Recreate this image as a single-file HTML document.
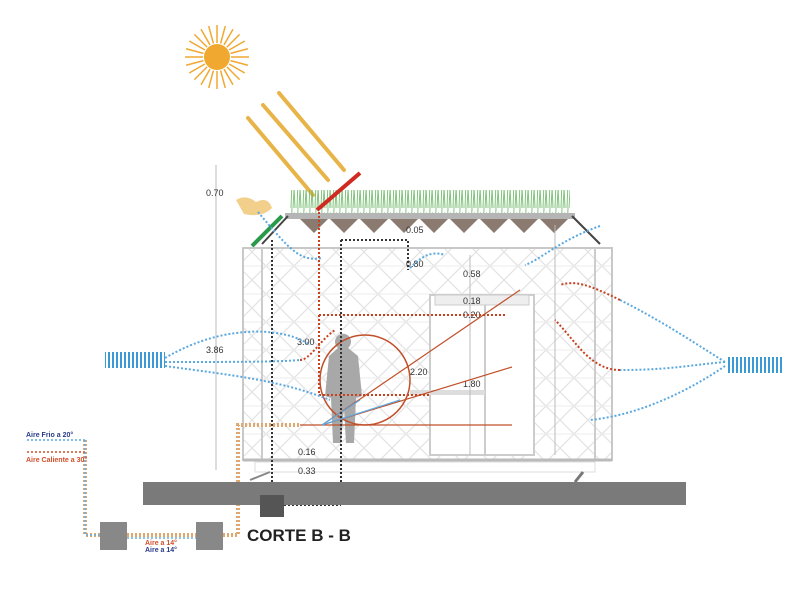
<!DOCTYPE html>
<html><head><meta charset="utf-8"><style>
html,body{margin:0;padding:0;background:#fff;width:800px;height:600px;overflow:hidden}
text{font-family:"Liberation Sans",sans-serif}
</style></head><body>
<svg width="800" height="600" viewBox="0 0 800 600" xmlns="http://www.w3.org/2000/svg">
<defs>
<pattern id="lat" width="28" height="28" patternUnits="userSpaceOnUse">
<path d="M0 0L28 28M28 0L0 28" stroke="#e3e3e3" stroke-width="1.2"/>
<path d="M0 14H28" stroke="#ececec" stroke-width="1"/>
</pattern>
<pattern id="grass" width="6" height="26" patternUnits="userSpaceOnUse">
<path d="M1 26L0 4M3 26L4 0M5 26L6 8" stroke="#6cb865" stroke-width="1"/>
</pattern>
<pattern id="vb" width="4" height="16" patternUnits="userSpaceOnUse">
<rect width="2" height="16" fill="#3a9ad6"/>
</pattern>
</defs>

<g transform="translate(217,57)" stroke="#f0a830" stroke-width="1.5">
<g id="r"><line x1="0" y1="-14" x2="0" y2="-32"/><line x1="0" y1="14" x2="0" y2="32"/><line x1="-14" y1="0" x2="-32" y2="0"/><line x1="14" y1="0" x2="32" y2="0"/></g>
<use href="#r" transform="rotate(15)"/><use href="#r" transform="rotate(30)"/><use href="#r" transform="rotate(45)"/><use href="#r" transform="rotate(60)"/><use href="#r" transform="rotate(75)"/>
<circle r="13" fill="#f0a830" stroke="none"/>
</g>
<g stroke="#e8b448" stroke-width="4" stroke-linecap="round">
<line x1="248" y1="118" x2="313" y2="195"/>
<line x1="263" y1="105" x2="328" y2="180"/>
<line x1="279" y1="93" x2="344" y2="170"/>
</g>

<rect x="243" y="248" width="369" height="212" fill="url(#lat)"/>
<rect x="243" y="248" width="369" height="212" fill="none" stroke="#c8c8c8" stroke-width="2"/>
<line x1="262" y1="248" x2="262" y2="460" stroke="#ccc" stroke-width="2"/>
<line x1="595" y1="248" x2="595" y2="460" stroke="#ccc" stroke-width="2"/>
<rect x="430" y="295" width="104" height="160" fill="#fff" stroke="#ccc" stroke-width="2"/>
<rect x="435" y="295" width="94" height="10" fill="#eee" stroke="#ccc"/>
<line x1="485" y1="305" x2="485" y2="455" stroke="#ccc" stroke-width="2"/>
<rect x="410" y="390" width="75" height="5" fill="#ddd"/>
<line x1="243" y1="460" x2="612" y2="460" stroke="#bbb" stroke-width="3"/>
<rect x="255" y="462" width="340" height="10" fill="none" stroke="#ddd"/>
<line x1="270" y1="472" x2="250" y2="480" stroke="#888" stroke-width="2"/>
<line x1="583" y1="472" x2="575" y2="482" stroke="#777" stroke-width="3"/>

<rect x="290" y="190" width="280" height="25" fill="url(#grass)" opacity="0.85"/>
<rect x="285" y="213" width="290" height="6" fill="#b5b5b5"/>
<g fill="#8a7a70">
<path d="M300 219l14 14l14-14zM330 219l14 14l14-14zM360 219l14 14l14-14zM390 219l14 14l14-14zM420 219l14 14l14-14zM450 219l14 14l14-14zM480 219l14 14l14-14zM510 219l14 14l14-14zM540 219l14 14l14-14z"/>
</g>
<line x1="288" y1="216" x2="262" y2="244" stroke="#444" stroke-width="2"/>
<line x1="572" y1="216" x2="600" y2="244" stroke="#444" stroke-width="2"/>
<line x1="252" y1="246" x2="282" y2="216" stroke="#2a9a4a" stroke-width="4"/>
<line x1="317" y1="210" x2="360" y2="173" stroke="#d02a20" stroke-width="4"/>
<path d="M236 200q10-6 20 2q12-6 16 6q-10 10-28 6z" fill="#f2cf8a"/>

<line x1="216" y1="165" x2="216" y2="470" stroke="#bbb"/>
<text x="206" y="196" font-size="9" fill="#333">0.70</text>
<text x="206" y="353" font-size="9" fill="#333">3.86</text>
<line x1="555" y1="225" x2="555" y2="455" stroke="#bbb"/>
<line x1="470" y1="255" x2="470" y2="455" stroke="#bbb"/>
<g font-size="9" fill="#333">
<text x="406" y="233">0.05</text><text x="406" y="267">0.80</text><text x="463" y="277">0.58</text>
<text x="463" y="304">0.18</text><text x="463" y="318">0.20</text><text x="297" y="345">3.00</text>
<text x="410" y="375">2.20</text><text x="463" y="387">1.80</text>
<text x="298" y="455">0.16</text><text x="298" y="474">0.33</text>
</g>

<path d="M338 348a8 8 0 1 1 10 0l10 8l4 40l-6 2l-2 45h-8l-2-35l-3 35h-8l-2-45l-6-2l4-40z" fill="#a8a8a8"/>
<circle cx="365" cy="380" r="45" fill="none" stroke="#c0502a" stroke-width="1.5"/>
<g stroke="#c0502a" stroke-width="1.2">
<line x1="322" y1="425" x2="520" y2="290"/><line x1="322" y1="425" x2="512" y2="367"/><line x1="300" y1="425" x2="512" y2="425"/>
</g>
<g stroke="#60a8e0" stroke-width="1.2"><line x1="322" y1="425" x2="360" y2="400"/><line x1="322" y1="425" x2="400" y2="400"/></g>

<g fill="none" stroke-dasharray="2 2" stroke-width="2">
<path d="M272 240V505M341 240V505M341 240H408V270" stroke="#333"/>
<path d="M284 505H341" stroke="#333"/>
<path d="M319 212V310M319 315V395H430M319 315H505" stroke="#c8401e"/>
<path d="M165 358C230 320 290 330 310 345M165 362C230 362 280 362 300 360M165 366C230 375 280 380 330 400M258 212C290 250 300 262 322 258M410 268C420 258 430 250 445 255M600 226C560 240 540 260 525 265M725 362C690 340 660 320 620 300M725 362C690 365 670 370 620 370M725 366C690 390 640 415 590 420" stroke="#5aa8e0"/>
<path d="M620 300C590 285 575 280 560 285M620 370C590 370 575 340 555 320M300 360C310 360 320 340 335 330" stroke="#c8401e"/>
<path d="M85 440V535H100M127 535H196M223 535H238V425H300" stroke="#e0a870" stroke-width="4"/>
<path d="M85 440V535H100M127 538H196" stroke="#6ab0e0" stroke-width="1.5"/>
<path d="M27 440H85" stroke="#5aa8e0" stroke-width="1.5"/>
<path d="M27 452H85" stroke="#d0502a" stroke-width="1.5"/>
</g>

<rect x="105" y="352" width="60" height="16" fill="url(#vb)"/>
<rect x="726" y="357" width="58" height="16" fill="url(#vb)"/>

<rect x="143" y="482" width="543" height="23" fill="#7a7a7a"/>
<rect x="260" y="495" width="24" height="22" fill="#555"/>
<rect x="100" y="522" width="27" height="28" fill="#888"/>
<rect x="196" y="522" width="27" height="28" fill="#888"/>

<text x="247" y="541" font-size="17" font-weight="bold" fill="#222">CORTE  B - B</text>
<text x="26" y="437" font-size="7" font-weight="bold" fill="#2a3a8a">Aire Frio a 20°</text>
<text x="26" y="462" font-size="7" font-weight="bold" fill="#d0502a">Aire Caliente a 30°</text>
<text x="145" y="545" font-size="7" font-weight="bold" fill="#d0502a">Aire a 14°</text>
<text x="145" y="552" font-size="7" font-weight="bold" fill="#2a3a8a">Aire a 14°</text>
</svg>
</body></html>
